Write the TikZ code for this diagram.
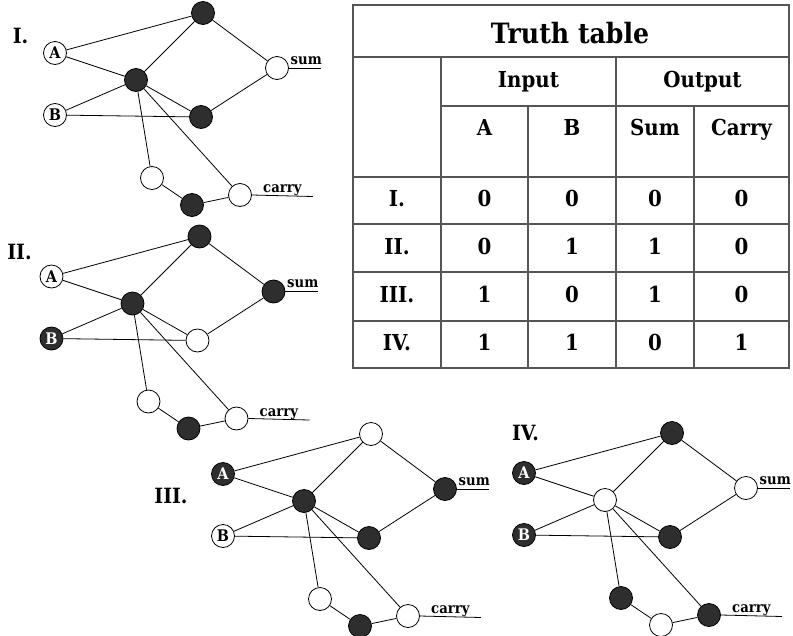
\documentclass[tikz,border=0pt]{standalone}
\usepackage{fontspec}
\setmainfont{DejaVu Serif}[FakeStretch=0.9]
\definecolor{nodefill}{HTML}{2E2E2E}
\definecolor{tablegray}{HTML}{555555}
\tikzset{
  gate/.style={circle, draw=black, line width=0.8pt, minimum size=23pt, inner sep=0pt, font=\fontsize{16}{16}\selectfont\bfseries},
  on/.style={gate, fill=nodefill, text=white},
  off/.style={gate, fill=white, text=black},
  wire/.style={line width=0.8pt},
  outlabel/.style={font=\fontsize{14.7}{14.7}\selectfont\bfseries, anchor=base west, inner sep=0pt},
  caselabel/.style={font=\fontsize{21}{21}\selectfont\bfseries, inner sep=0pt},
  gridline/.style={draw=tablegray, line width=1.2pt},
  cell/.style={font=\fontsize{22}{22}\selectfont\bfseries, anchor=base, inner sep=0pt},
  titlecell/.style={font=\fontsize{28}{28}\selectfont\bfseries, anchor=base, inner sep=0pt},
}
\newcommand\adder[1]{%
  \node[stA] (#1A) at (55,53) {A};
  \node[stB] (#1B) at (55,115) {B};
  \node[stT] (#1T) at (203,13) {};
  \node[stC] (#1C) at (136,80) {};
  \node[stS] (#1S) at (277,68) {};
  \node[stM] (#1M) at (201,117) {};
  \node[stL] (#1L) at (152,178) {};
  \node[stK] (#1K) at (192,205) {};
  \node[stR] (#1R) at (240,195) {};
  \draw[wire] (#1A) -- (#1T);
  \draw[wire] (#1A) -- (#1C);
  \draw[wire] (#1B) -- (#1C);
  \draw[wire] (#1B) -- (#1M);
  \draw[wire] (#1C) -- (#1T);
  \draw[wire] (#1C) -- (#1M);
  \draw[wire] (#1C) -- (#1L);
  \draw[wire] (#1C) -- (#1R);
  \draw[wire] (#1T) -- (#1S);
  \draw[wire] (#1M) -- (#1S);
  \draw[wire] (#1L) -- (#1K);
  \draw[wire] (#1K) -- (#1R);
  \coordinate (#1se) at (321,68);
  \draw[wire] (#1S.east) -- (#1se);
  \node[outlabel] (#1sum) at (290.5,64) {sum};
  \coordinate (#1ce) at (313,196.5);
  \draw[wire] (#1R.east) -- (#1ce);
  \node[outlabel] (#1carry) at (263,192.5) {carry};
}
\begin{document}
\begin{tikzpicture}[x=1pt, y=-1pt]
\useasboundingbox (0,0) rectangle (793,635);
% diagram I
\begin{scope}[stA/.style=off, stB/.style=off, stT/.style=on, stC/.style=on, stS/.style=off, stM/.style=on, stL/.style=off, stK/.style=on, stR/.style=off]
  \adder{a}
\end{scope}
\node[caselabel] (lab1) at (20.5,36) {I.};
% diagram II
\begin{scope}[shift={(-3.5,223.5)}, stA/.style=off, stB/.style=on, stT/.style=on, stC/.style=on, stS/.style=on, stM/.style=off, stL/.style=off, stK/.style=on, stR/.style=off]
  \adder{b}
\end{scope}
\node[caselabel] (lab2) at (19.5,251.5) {II.};
% diagram III
\begin{scope}[shift={(168,421)}, stA/.style=on, stB/.style=off, stT/.style=off, stC/.style=on, stS/.style=on, stM/.style=on, stL/.style=off, stK/.style=on, stR/.style=off]
  \adder{c}
\end{scope}
\node[caselabel] (lab3) at (171,496) {III.};
% diagram IV
\begin{scope}[shift={(469,420)}, stA/.style=on, stB/.style=on, stT/.style=on, stC/.style=off, stS/.style=off, stM/.style=on, stL/.style=on, stK/.style=off, stR/.style=on]
  \adder{d}
\end{scope}
\node[caselabel] (lab4) at (525.5,433) {IV.};
% truth table
\draw[gridline] (353,5) rectangle (789,368);
\draw[gridline] (353,57) -- (789,57);
\draw[gridline] (441,106) -- (789,106);
\draw[gridline] (353,177) -- (789,177);
\draw[gridline] (353,224) -- (789,224);
\draw[gridline] (353,272) -- (789,272);
\draw[gridline] (353,321) -- (789,321);
\draw[gridline] (441,57) -- (441,368);
\draw[gridline] (528,106) -- (528,368);
\draw[gridline] (616,57) -- (616,368);
\draw[gridline] (694,106) -- (694,368);
\node[titlecell] (title) at (570,43) {Truth table};
\node[cell] (hin) at (528.5,87) {Input};
\node[cell] (hout) at (702.5,87) {Output};
\node[cell] (hA) at (484.5,135) {A};
\node[cell] (hB) at (572,135) {B};
\node[cell] (hS) at (655,135) {Sum};
\node[cell] (hC) at (741.5,135) {Carry};
\foreach \lab/\a/\b/\s/\c/\y in {I./0/0/0/0/206, II./0/1/1/0/254, III./1/0/1/0/302, IV./1/1/0/1/350}{
  \node[cell] (r\y) at (397,\y) {\lab};
  \node[cell] (ra\y) at (484.5,\y) {\a};
  \node[cell] (rb\y) at (572,\y) {\b};
  \node[cell] (rs\y) at (655,\y) {\s};
  \node[cell] (rc\y) at (741.5,\y) {\c};
}
\end{tikzpicture}
\end{document}
